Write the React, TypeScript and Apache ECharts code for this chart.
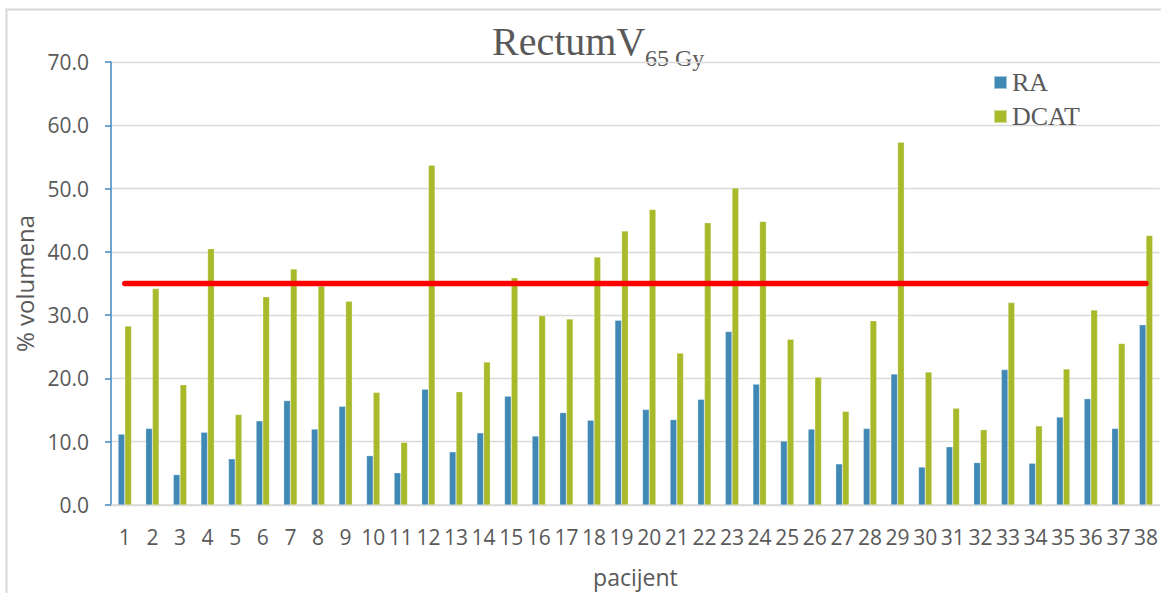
import React, { useEffect, useRef } from "react";
import * as echarts from "echarts";

const categories = [
  "1", "2", "3", "4", "5", "6", "7", "8", "9", "10",
  "11", "12", "13", "14", "15", "16", "17", "18", "19", "20",
  "21", "22", "23", "24", "25", "26", "27", "28", "29", "30",
  "31", "32", "33", "34", "35", "36", "37", "38",
];

const raValues = [
  11.2, 12.1, 4.8, 11.5, 7.3, 13.3, 16.5, 12.0, 15.6, 7.8,
  5.1, 18.3, 8.4, 11.4, 17.2, 10.9, 14.6, 13.4, 29.2, 15.1,
  13.5, 16.7, 27.4, 19.1, 10.1, 12.0, 6.5, 12.1, 20.7, 6.0,
  9.2, 6.7, 21.4, 6.6, 13.9, 16.8, 12.1, 28.5,
];

const dcatValues = [
  28.3, 34.2, 19.0, 40.5, 14.3, 32.9, 37.3, 34.6, 32.2, 17.8,
  9.9, 53.7, 17.9, 22.6, 35.9, 29.9, 29.4, 39.2, 43.3, 46.7,
  24.0, 44.6, 50.1, 44.8, 26.2, 20.2, 14.8, 29.1, 57.3, 21.0,
  15.3, 11.9, 32.0, 12.5, 21.5, 30.8, 25.5, 42.6,
];

const limitValue = 35;
const limitValues = categories.map(() => limitValue);

const seriesNames = ["RA", "DCAT"];
const titleMain = "RectumV";
const titleSub = "65 Gy";
const xName = "pacijent";
const yName = "% volumena";

export default function App() {
  const ref = useRef<HTMLDivElement>(null);

  useEffect(() => {
    if (!ref.current) return;
    const chart = echarts.init(ref.current, undefined, { renderer: "svg" });
    const axisFont = "'Open Sans', sans-serif";
    const serif = "'Liberation Serif', 'Times New Roman', serif";
    const textColor = "#595959";

    chart.setOption({
      animation: false,
      backgroundColor: "#ffffff",
      graphic: [
        {
          type: "rect",
          z: -10,
          silent: true,
          shape: { x: 6.5, y: 9.5, width: 1300, height: 700 },
          style: { fill: "none", stroke: "#D9D9D9", lineWidth: 2 },
        },
        {
          type: "text",
          x: 492,
          y: 41.5,
          style: {
            text: titleMain,
            font: `40px ${serif}`,
            fill: textColor,
            align: "left",
            verticalAlign: "middle",
          },
        },
        {
          type: "text",
          x: 645,
          y: 57.5,
          style: {
            text: titleSub,
            font: `24px ${serif}`,
            fill: textColor,
            align: "left",
            verticalAlign: "middle",
          },
        },
      ],
      legend: {
        data: seriesNames,
        orient: "vertical",
        left: 988,
        top: 64.5,
        icon: "rect",
        itemWidth: 13,
        itemHeight: 13,
        itemGap: 8,
        textStyle: { fontFamily: serif, fontSize: 26, color: textColor },
      },
      grid: { left: 111, right: 0, top: 62, bottom: 87, containLabel: false },
      xAxis: {
        type: "category",
        data: categories,
        name: xName,
        nameLocation: "middle",
        nameGap: 60,
        nameTextStyle: { fontFamily: axisFont, fontSize: 23, color: textColor },
        axisLine: { show: true, lineStyle: { color: "#D9D9D9", width: 1.5 } },
        axisTick: { show: false },
        axisLabel: {
          interval: 0,
          fontFamily: axisFont,
          fontSize: 21,
          color: textColor,
          margin: 21,
        },
      },
      yAxis: {
        type: "value",
        min: 0,
        max: 70,
        interval: 10,
        name: yName,
        nameLocation: "middle",
        nameGap: 70,
        nameRotate: 90,
        nameTextStyle: { fontFamily: axisFont, fontSize: 24, color: textColor },
        axisLine: { show: true, lineStyle: { color: "#4A90C4", width: 1.6 } },
        axisTick: { show: true, length: 6, lineStyle: { color: "#4A90C4", width: 1.6 } },
        axisLabel: {
          fontFamily: axisFont,
          fontSize: 21,
          color: textColor,
          margin: 22,
          formatter: (v: number) => v.toFixed(1),
        },
        splitLine: { show: true, lineStyle: { color: "#D9D9D9", width: 1.3 } },
      },
      series: [
        {
          name: seriesNames[0],
          type: "bar",
          data: raValues,
          barWidth: 6.7,
          barGap: "0%",
          itemStyle: { color: "#4189B5", borderColor: "rgba(255,255,255,0.5)", borderWidth: 0.5 },
        },
        {
          name: seriesNames[1],
          type: "bar",
          data: dcatValues,
          barWidth: 6.7,
          barGap: "0%",
          itemStyle: { color: "#A8B929", borderColor: "rgba(255,255,255,0.5)", borderWidth: 0.5 },
        },
        {
          name: "limit",
          type: "line",
          data: limitValues,
          symbol: "none",
          z: 5,
          lineStyle: { color: "#FF0000", width: 5.5, cap: "round" },
        },
      ],
    });

    return () => chart.dispose();
  }, []);

  return (
    <div
      ref={ref}
      style={{ position: "fixed", left: 0, top: 0, width: 1161, height: 593, background: "#fff" }}
    />
  );
}
